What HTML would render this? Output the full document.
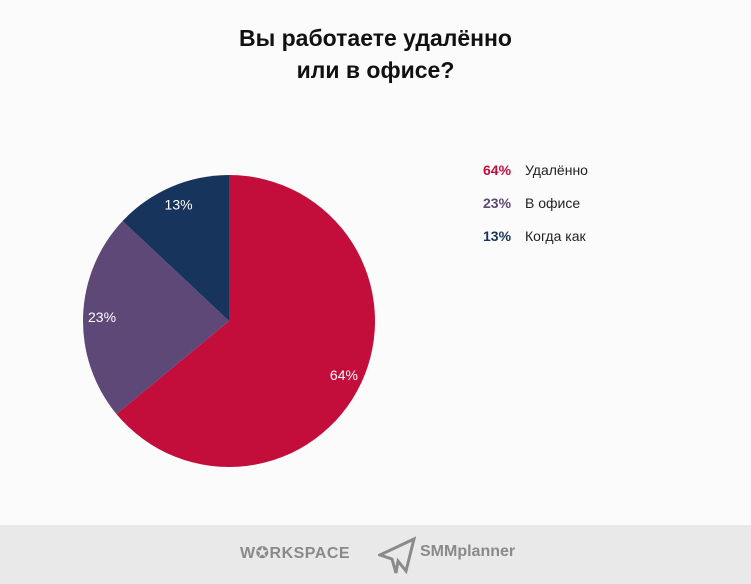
<!DOCTYPE html>
<html><head><meta charset="utf-8"><style>
body{margin:0;width:751px;height:584px;background:#fbfbfb;font-family:"Liberation Sans","DejaVu Sans",sans-serif;position:relative;overflow:hidden}
#title{position:absolute;top:22px;left:0;width:751px;text-align:center;font-size:23px;font-weight:bold;line-height:32px;color:#111}
.leg{position:absolute;left:483px;font-size:14px;color:#222}
.leg b{display:inline-block;width:42px}
#footer{position:absolute;left:0;top:525px;width:751px;height:59px;background:#e9e9e9}
</style></head><body>
<div id="title">Вы работаете удалённо<br>или в офисе?</div>
<svg id="pie" width="751" height="520" style="position:absolute;left:0;top:0"></svg>
<div class="leg" style="top:162px"><b style="color:#c30d3a">64%</b>Удалённо</div>
<div class="leg" style="top:195px"><b style="color:#5e4877">23%</b>В офисе</div>
<div class="leg" style="top:228px"><b style="color:#17345c">13%</b>Когда как</div>
<div id="footer">
<div style="position:absolute;left:240px;top:18px;font-size:16px;font-weight:bold;color:#8a8a8a;letter-spacing:0.5px">W✪RKSPACE</div>
<svg style="position:absolute;left:378px;top:10px" width="40" height="40"><path d="M2 20 L36 4 L28 36 L20 26 L18 38 L14 24 Z" fill="none" stroke="#8a8a8a" stroke-width="3"/></svg>
<div style="position:absolute;left:420px;top:18px;font-size:16px;font-weight:bold;color:#8a8a8a">SMMplanner</div>
</div>
<script>
const categories=["Удалённо","В офисе","Когда как"];
const values=[64,23,13];
const colors=["#c30d3a","#5e4877","#17345c"];
const svg=document.getElementById('pie');
const cx=229,cy=321,r=146;
const total=values.reduce((a,b)=>a+b,0);
function pt(a,rr){return [cx+rr*Math.sin(a),cy-rr*Math.cos(a)];}
let a0=0;
values.forEach((v,i)=>{
 const a1=a0+v/total*2*Math.PI;
 const p0=pt(a0,r),p1=pt(a1,r);
 const large=(a1-a0)>Math.PI?1:0;
 const path=document.createElementNS("http://www.w3.org/2000/svg","path");
 path.setAttribute('d',`M${cx},${cy} L${p0[0]},${p0[1]} A${r},${r} 0 ${large} 1 ${p1[0]},${p1[1]} Z`);
 path.setAttribute('fill',colors[i]);
 
 
 svg.appendChild(path);
 const lp=pt((a0+a1)/2,r*0.87);
 const t=document.createElementNS("http://www.w3.org/2000/svg","text");
 t.setAttribute('x',lp[0]);t.setAttribute('y',lp[1]+5);
 t.setAttribute('text-anchor','middle');t.setAttribute('fill','#fff');t.setAttribute('font-size','14');
 t.textContent=v+'%';
 
 
 svg.appendChild(t);
 a0=a1;
});
</script>
</body></html>
